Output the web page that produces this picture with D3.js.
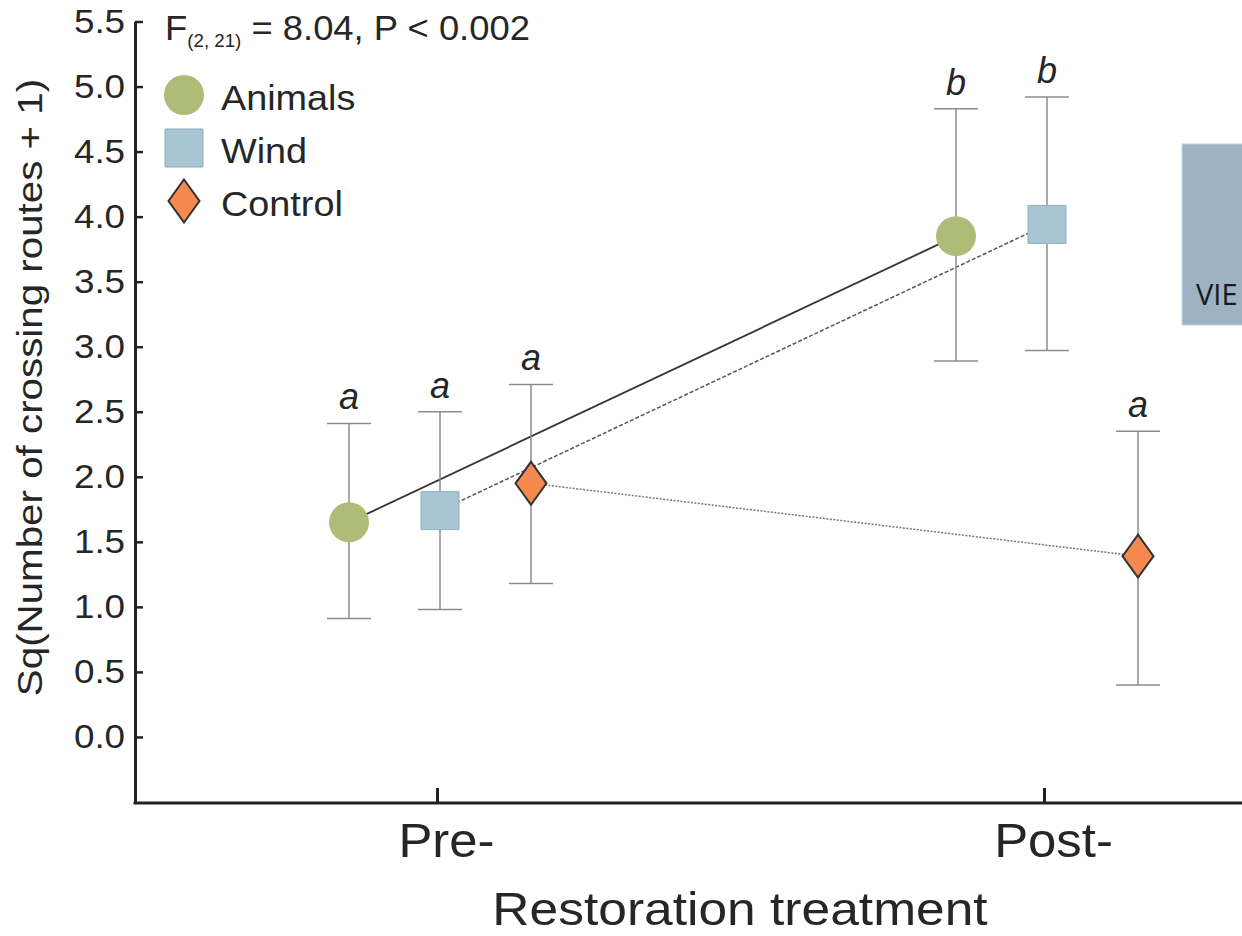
<!DOCTYPE html>
<html>
<head>
<meta charset="utf-8">
<script src="https://cdn.jsdelivr.net/npm/d3@7"></script>
<style>
  html, body { margin: 0; padding: 0; background: #fff; }
  svg { display: block; font-family: "Liberation Sans", Arial, sans-serif; }
</style>
</head>
<body>
<div id="chart"></div>
<script>
// data
var groups = ["Pre-", "Post-"];
var seriesNames = ["Animals", "Wind", "Control"];

var animalsMean = [1.65, 3.85];
var animalsLow = [0.91, 2.89];
var animalsHigh = [2.41, 4.83];
var animalsLetters = ["a", "b"];

var windMean = [1.74, 3.94];
var windLow = [0.98, 2.97];
var windHigh = [2.50, 4.92];
var windLetters = ["a", "b"];

var controlMean = [1.95, 1.39];
var controlLow = [1.18, 0.40];
var controlHigh = [2.71, 2.35];
var controlLetters = ["a", "a"];

var yTicks = [0, 0.5, 1, 1.5, 2, 2.5, 3, 3.5, 4, 4.5, 5, 5.5];
var statMain = "F";
var statSub = "(2, 21)";
var statRest = " = 8.04, P < 0.002";
var xTitle = "Restoration treatment";
var yTitle = "Sq(Number of crossing routes + 1)";

var series = [
    {name: "Animals", mean: animalsMean, low: animalsLow, high: animalsHigh, letters: animalsLetters},
    {name: "Wind", mean: windMean, low: windLow, high: windHigh, letters: windLetters},
    {name: "Control", mean: controlMean, low: controlLow, high: controlHigh, letters: controlLetters}
];

var style = {
    Animals: {fill: "#afbc77", stroke: "none", line: "#333", dash: null, lw: 1.8},
    Wind: {fill: "#a7c5d3", stroke: "#8fb0c0", line: "#555", dash: "4,2", lw: 1.5},
    Control: {fill: "#f5894f", stroke: "#333", line: "#777", dash: "2,1.5", lw: 1.5}
};

var W = 1242, H = 936;
var margin = {top: 21.5, left: 135, axisY: 803};
var textCol = "#262626";

var svg = d3.select("#chart").append("svg")
    .attr("width", W)
    .attr("height", H)
    .attr("viewBox", [0, 0, W, H]);

var y = d3.scaleLinear().domain([-0.5, 5.5]).range([802, margin.top]);
var x = d3.scalePoint().domain(groups).range([437, 1044]);
var off = d3.scalePoint().domain(seriesNames).range([-88, 94]);

function px(name, i) { return x(groups[i]) + off(name); }

// marker shapes
function markerPath(name) {
    if (name === "Animals") return d3.symbol(d3.symbolCircle, Math.PI * 20 * 20)();
    if (name === "Wind") return d3.symbol(d3.symbolSquare, 38 * 38)();
    var w = 15.5, h = 21.5;
    return "M0," + (-h) + "L" + w + ",0L0," + h + "L" + (-w) + ",0Z";
}

// y axis
var yAxis = svg.append("g")
    .attr("transform", `translate(${margin.left},0)`)
    .call(d3.axisLeft(y).tickValues(yTicks).tickFormat(d3.format(".1f"))
        .tickSizeInner(-8).tickSizeOuter(0).tickPadding(9));
yAxis.select(".domain").attr("stroke", "#222").attr("stroke-width", 3);
yAxis.selectAll(".tick line").attr("stroke", "#222").attr("stroke-width", 2.5);
yAxis.selectAll(".tick text")
    .attr("font-size", 33.5)
    .attr("font-family", "Liberation Sans, Arial, sans-serif")
    .attr("fill", textCol)
    .attr("transform", "scale(1.1,1)");

// x axis
var xAxis = svg.append("g")
    .attr("transform", `translate(0,${margin.axisY})`)
    .call(d3.axisBottom(x).tickSizeInner(-15).tickSizeOuter(0));
xAxis.select(".domain").remove();
xAxis.selectAll(".tick line").attr("stroke", "#222").attr("stroke-width", 3);
xAxis.selectAll(".tick text")
    .attr("font-size", 48)
    .attr("font-family", "Liberation Sans, Arial, sans-serif")
    .attr("fill", textCol)
    .attr("y", null).attr("dy", null)
    .attr("transform", "translate(9,54) scale(1.06,1)");
svg.append("line")
    .attr("x1", margin.left - 1.5).attr("x2", W)
    .attr("y1", margin.axisY).attr("y2", margin.axisY)
    .attr("stroke", "#222").attr("stroke-width", 3);

// axis titles
svg.append("text")
    .attr("transform", "translate(740,925) scale(1.12,1)")
    .attr("text-anchor", "middle")
    .attr("font-size", 46)
    .attr("fill", textCol)
    .text(xTitle);

svg.append("text")
    .attr("transform", "translate(42,387.5) rotate(-90) scale(1.12,1)")
    .attr("text-anchor", "middle")
    .attr("font-size", 36)
    .attr("fill", textCol)
    .text(yTitle);

// connecting lines
var line = d3.line().x(d => d[0]).y(d => d[1]);
svg.append("g")
    .selectAll("path")
    .data(series)
    .join("path")
    .attr("d", s => line(s.mean.map((m, i) => [px(s.name, i), y(m)])))
    .attr("fill", "none")
    .attr("stroke", s => style[s.name].line)
    .attr("stroke-width", s => style[s.name].lw)
    .attr("stroke-dasharray", s => style[s.name].dash);

// error bars, markers, letters
var pts = [];
series.forEach(s => s.mean.forEach((m, i) => pts.push({
    name: s.name, x: px(s.name, i), mean: m, low: s.low[i], high: s.high[i], letter: s.letters[i]
})));

var eb = svg.append("g").attr("stroke", "#8c8c8c").attr("stroke-width", 1.5);
eb.selectAll(".v").data(pts).join("line")
    .attr("x1", d => d.x).attr("x2", d => d.x)
    .attr("y1", d => y(d.low)).attr("y2", d => y(d.high));
eb.selectAll(".hi").data(pts).join("line")
    .attr("x1", d => d.x - 22).attr("x2", d => d.x + 22)
    .attr("y1", d => y(d.high)).attr("y2", d => y(d.high));
eb.selectAll(".lo").data(pts).join("line")
    .attr("x1", d => d.x - 22).attr("x2", d => d.x + 22)
    .attr("y1", d => y(d.low)).attr("y2", d => y(d.low));

svg.append("g")
    .selectAll("path")
    .data(pts)
    .join("path")
    .attr("transform", d => `translate(${d.x},${y(d.mean)})`)
    .attr("d", d => markerPath(d.name))
    .attr("fill", d => style[d.name].fill)
    .attr("stroke", d => style[d.name].stroke)
    .attr("stroke-width", d => d.name === "Control" ? 2 : 1);

svg.append("g")
    .selectAll("text")
    .data(pts)
    .join("text")
    .attr("x", d => d.x)
    .attr("y", d => y(d.high) - 14)
    .attr("text-anchor", "middle")
    .attr("font-size", 36)
    .attr("font-style", "italic")
    .attr("fill", textCol)
    .text(d => d.letter);

// statistic
var stat = svg.append("text")
    .attr("transform", "translate(165,40) scale(1.04,1)")
    .attr("font-size", 35)
    .attr("fill", textCol);
stat.append("tspan").text(statMain);
stat.append("tspan").attr("font-size", 18).attr("dy", 7).text(statSub);
stat.append("tspan").attr("dy", -7).text(statRest);

// legend
var legend = svg.append("g")
    .selectAll("g")
    .data(seriesNames)
    .join("g")
    .attr("transform", (d, i) => `translate(184,${95 + i * 53})`);
legend.append("path")
    .attr("d", d => markerPath(d))
    .attr("fill", d => style[d].fill)
    .attr("stroke", d => style[d].stroke)
    .attr("stroke-width", d => d === "Control" ? 2 : 1);
legend.append("text")
    .attr("transform", "translate(37,15) scale(1.08,1)")
    .attr("font-size", 35)
    .attr("fill", textCol)
    .text(d => d);

// cut-off overlay button on the right edge
svg.append("rect")
    .attr("x", 1182).attr("y", 144)
    .attr("width", 80).attr("height", 181)
    .attr("fill", "#9db2c2")
    .attr("stroke", "#c8d4dd");
svg.append("text")
    .attr("x", 1196).attr("y", 305)
    .attr("font-family", "Open Sans, sans-serif")
    .attr("font-size", 29)
    .attr("fill", "#1a1a1a")
    .text("VIE");
</script>
</body>
</html>
